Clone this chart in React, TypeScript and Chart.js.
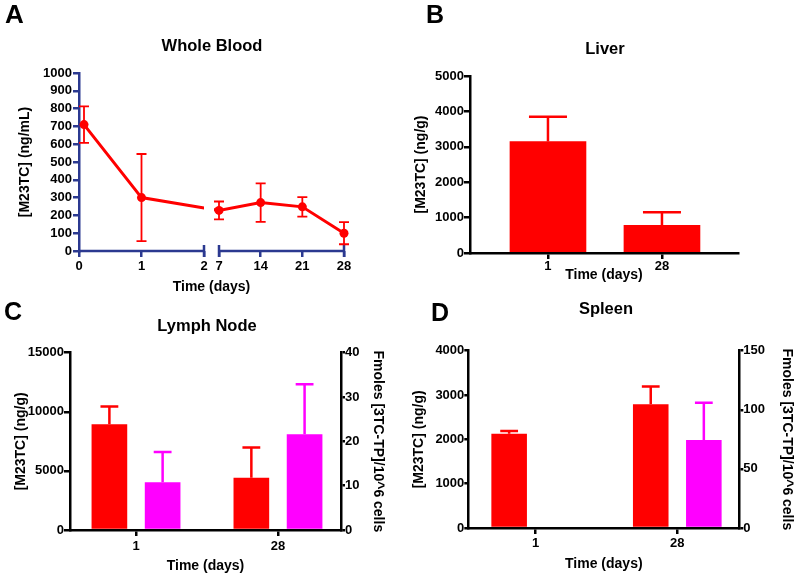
import React, { useEffect, useRef } from 'react';
import { Chart, registerables } from 'chart.js';

Chart.register(...registerables);

// ---------- Data ----------
// Panel A — Whole Blood (mean ± SD, ng/mL)
const bloodDays = [0.08, 1, 7, 14, 21, 28];
const bloodMean = [710, 300, 228, 272, 248, 100];
const bloodSD = [103, 245, 50, 108, 55, 62];
const bloodTickDays = [0, 1, 2, 7, 14, 21, 28];

// Panels B–D — categories
const timeLabels = ['1', '28'];

// Panel B — Liver (ng/g)
const liverMean = [3150, 780];
const liverSD = [700, 370];

// Panel C — Lymph Node
const lymphM23 = [8950, 4420];
const lymphM23SD = [1500, 2550];
const lymphTP = [10.8, 21.6];
const lymphTPSD = [6.8, 11.3];

// Panel D — Spleen
const spleenM23 = [2125, 2790];
const spleenM23SD = [65, 400];
const spleenTP: (number | null)[] = [null, 74.4];
const spleenTPSD: (number | null)[] = [null, 31.6];

// ---------- Styles ----------
const FONT = "'Liberation Sans', Arial, Helvetica, sans-serif";
const RED = '#FF0000';
const MAGENTA = '#FF00FF';
const NAVY = '#2B3990';
const BLACK = '#000000';

Chart.defaults.font.family = FONT;
Chart.defaults.font.size = 13;
Chart.defaults.font.weight = 'bold' as any;
Chart.defaults.color = '#000';

const plain = (v: any) => String(v);

// broken axis mapping: 0–2 days, gap, 7–28 days
const axisPos = (d: number) => (d <= 2 ? d : 2.24 + ((d - 7) * 2) / 21);

const errorBarsPlugin = {
  id: 'errorBars',
  afterDatasetsDraw(chart: any) {
    const ctx = chart.ctx;
    chart.data.datasets.forEach((ds: any, di: number) => {
      if (!ds.errors) return;
      const meta = chart.getDatasetMeta(di);
      if (meta.hidden) return;
      const yScale = chart.scales[meta.yAxisID];
      ctx.save();
      ctx.strokeStyle = ds.errorColor;
      ctx.lineWidth = ds.errorWidth || 2;
      meta.data.forEach((el: any, i: number) => {
        const pt = ds.data[i];
        const err = ds.errors[i];
        if (!pt || pt.y == null || err == null) return;
        const x = el.x;
        const top = yScale.getPixelForValue(pt.y + err);
        const bottom = ds.errorBoth ? yScale.getPixelForValue(pt.y - err) : el.y;
        const half = ds.capHalf != null ? ds.capHalf : el.width / 4;
        ctx.beginPath();
        ctx.moveTo(x, top);
        ctx.lineTo(x, bottom);
        ctx.moveTo(x - half, top);
        ctx.lineTo(x + half, top);
        if (ds.errorBoth) {
          ctx.moveTo(x - half, bottom);
          ctx.lineTo(x + half, bottom);
        }
        ctx.stroke();
      });
      ctx.restore();
    });
  },
};

const brokenAxisPlugin = {
  id: 'brokenAxis',
  beforeDatasetsDraw(chart: any) {
    const ctx = chart.ctx;
    const xs = chart.scales.x;
    const { left, right, bottom } = chart.chartArea;
    const a = xs.getPixelForValue(axisPos(2));
    const b = xs.getPixelForValue(axisPos(7));
    ctx.save();
    ctx.strokeStyle = NAVY;
    ctx.lineWidth = 2.5;
    ctx.beginPath();
    ctx.moveTo(left - 1, bottom);
    ctx.lineTo(a, bottom);
    ctx.moveTo(b, bottom);
    ctx.lineTo(right, bottom);
    for (const px of [a, b, right]) {
      ctx.moveTo(px, bottom - 6);
      ctx.lineTo(px, bottom + 6);
    }
    ctx.stroke();
    ctx.restore();
  },
  beforeDatasetDraw(chart: any) {
    const ctx = chart.ctx;
    const xs = chart.scales.x;
    const a = xs.getPixelForValue(axisPos(2));
    const b = xs.getPixelForValue(axisPos(7)) - 5;
    ctx.save();
    ctx.beginPath();
    ctx.rect(0, 0, a, chart.height);
    ctx.rect(b, 0, chart.width - b, chart.height);
    ctx.clip();
  },
  afterDatasetDraw(chart: any) {
    chart.ctx.restore();
  },
};

// ---------- Configs ----------
function bloodConfig(): any {
  const W = 400, H = 300, L = 79, R = 344, T = 73, B = 251;
  return {
    type: 'line',
    data: {
      datasets: [
        {
          data: bloodDays.map((d, i) => ({ x: axisPos(d), y: bloodMean[i] })),
          borderColor: RED,
          backgroundColor: RED,
          borderWidth: 3,
          pointRadius: 4.5,
          pointBackgroundColor: RED,
          pointBorderColor: RED,
          pointBorderWidth: 0,
          tension: 0,
          clip: false,
          errors: bloodSD,
          errorBoth: true,
          capHalf: 5,
          errorWidth: 1.8,
          errorColor: RED,
        },
      ],
    },
    options: {
      animation: false,
      responsive: false,
      maintainAspectRatio: false,
      layout: { padding: { left: 0, top: T, right: W - R, bottom: 0 } },
      plugins: { legend: { display: false }, tooltip: { enabled: false } },
      scales: {
        x: {
          type: 'linear',
          min: 0,
          max: axisPos(28),
          afterBuildTicks: (s: any) => {
            s.ticks = bloodTickDays.map((d) => ({ value: axisPos(d) }));
          },
          afterFit: (s: any) => {
            s.height = H - B;
          },
          ticks: {
            autoSkip: false,
            maxRotation: 0,
            padding: 2,
            callback: (_v: any, i: number) => String(bloodTickDays[i]),
          },
          grid: { drawOnChartArea: false, color: NAVY, lineWidth: 2.5, tickLength: 6 },
          border: { display: false },
          title: {
            display: true,
            text: 'Time (days)',
            font: { size: 14, weight: 'bold' },
            padding: { top: 0, bottom: 4.6 },
          },
        },
        y: {
          type: 'linear',
          min: 0,
          max: 1000,
          afterFit: (s: any) => {
            s.width = L;
          },
          ticks: { stepSize: 100, autoSkip: false, padding: 1, callback: plain },
          grid: { drawOnChartArea: false, color: NAVY, lineWidth: 2.5, tickLength: 6 },
          border: { display: true, color: NAVY, width: 2.5 },
          title: {
            display: true,
            text: '[M23TC] (ng/mL)',
            font: { size: 14, weight: 'bold' },
            padding: { top: 16.6, bottom: 0 },
          },
        },
      },
    },
    plugins: [errorBarsPlugin, brokenAxisPlugin],
  };
}

interface BarSpec {
  W: number; H: number; L: number; R: number; T: number; B: number;
  xMin: number; xMax: number;
  yMax: number; yStep: number; yTick: number; yTitlePad: number;
  y2Max?: number; y2Step?: number; y2TitlePad?: number;
  xTickPad: number; xTitlePad: number;
  datasets: any[];
}

function barConfig(s: BarSpec): any {
  const scales: any = {
    x: {
      type: 'linear',
      min: s.xMin,
      max: s.xMax,
      offset: false,
      afterBuildTicks: (sc: any) => {
        sc.ticks = timeLabels.map((_, i) => ({ value: i + 1 }));
      },
      afterFit: (sc: any) => {
        sc.height = s.H - s.B;
      },
      ticks: {
        autoSkip: false,
        maxRotation: 0,
        padding: s.xTickPad,
        callback: (_v: any, i: number) => timeLabels[i],
      },
      grid: { offset: false, drawOnChartArea: false, color: BLACK, lineWidth: 2.5, tickLength: 6 },
      border: { display: true, color: BLACK, width: 2.5 },
      title: {
        display: true,
        text: 'Time (days)',
        font: { size: 14, weight: 'bold' },
        padding: { top: 0, bottom: s.xTitlePad },
      },
    },
    y: {
      type: 'linear',
      position: 'left',
      min: 0,
      max: s.yMax,
      afterFit: (sc: any) => {
        sc.width = s.L;
      },
      ticks: { stepSize: s.yStep, autoSkip: false, padding: 0, callback: plain },
      grid: { drawOnChartArea: false, color: BLACK, lineWidth: 2.5, tickLength: s.yTick },
      border: { display: true, color: BLACK, width: 2.5 },
      title: {
        display: true,
        text: '[M23TC] (ng/g)',
        font: { size: 14, weight: 'bold' },
        padding: { top: s.yTitlePad, bottom: 0 },
      },
    },
  };
  if (s.y2Max != null) {
    scales.y2 = {
      type: 'linear',
      position: 'right',
      min: 0,
      max: s.y2Max,
      afterFit: (sc: any) => {
        sc.width = s.W - s.R;
      },
      ticks: { stepSize: s.y2Step, autoSkip: false, padding: 0, callback: plain },
      grid: { drawOnChartArea: false, color: BLACK, lineWidth: 2.5, tickLength: 4 },
      border: { display: true, color: BLACK, width: 2.5 },
      title: {
        display: true,
        text: 'Fmoles [3TC-TP]/10^6 cells',
        font: { size: 14, weight: 'bold' },
        padding: { top: s.y2TitlePad, bottom: 0 },
      },
    };
  }
  return {
    type: 'bar',
    data: { datasets: s.datasets },
    options: {
      animation: false,
      responsive: false,
      maintainAspectRatio: false,
      layout: {
        padding: { left: 0, top: s.T, right: s.y2Max != null ? 0 : s.W - s.R, bottom: 0 },
      },
      plugins: { legend: { display: false }, tooltip: { enabled: false } },
      scales,
    },
    plugins: [errorBarsPlugin],
  };
}

const toPoints = (vals: (number | null)[]) => vals.map((v, i) => ({ x: i + 1, y: v }));

function barDataset(vals: (number | null)[], errs: (number | null)[], color: string, axis: string, extra: any = {}) {
  return {
    data: toPoints(vals),
    backgroundColor: color,
    borderWidth: 0,
    yAxisID: axis,
    errors: errs,
    errorColor: color,
    errorWidth: 2.5,
    categoryPercentage: 0.75,
    barPercentage: 0.67,
    ...extra,
  };
}

const liverCfg = () =>
  barConfig({
    W: 400, H: 290, L: 70, R: 338, T: 76, B: 253,
    xMin: 0.316, xMax: 2.667,
    yMax: 5000, yStep: 1000, yTick: 6, yTitlePad: 12.3,
    xTickPad: 0, xTitlePad: 6.6,
    datasets: [barDataset(liverMean, liverSD, RED, 'y', { barThickness: 76 })],
  });

const lymphCfg = () =>
  barConfig({
    W: 400, H: 289, L: 70, R: 341, T: 62.7, B: 240,
    xMin: 0.535, xMax: 2.444,
    yMax: 15000, yStep: 5000, yTick: 6, yTitlePad: 12.3,
    y2Max: 40, y2Step: 10, y2TitlePad: 13.6,
    xTickPad: 2.2, xTitlePad: 4.6,
    datasets: [
      barDataset(lymphM23, lymphM23SD, RED, 'y'),
      barDataset(lymphTP, lymphTPSD, MAGENTA, 'y2'),
    ],
  });

const spleenCfg = () =>
  barConfig({
    W: 400, H: 289, L: 68.3, R: 339.3, T: 60.7, B: 238,
    xMin: 0.524, xMax: 2.438,
    yMax: 4000, yStep: 1000, yTick: 4, yTitlePad: 10.6,
    y2Max: 150, y2Step: 50, y2TitlePad: 4.9,
    xTickPad: 1.5, xTitlePad: 6.1,
    datasets: [
      barDataset(spleenM23, spleenM23SD, RED, 'y'),
      barDataset(spleenTP, spleenTPSD, MAGENTA, 'y2'),
    ],
  });

// ---------- Components ----------
function ChartCanvas(props: { left: number; top: number; width: number; height: number; make: () => any }) {
  const ref = useRef<HTMLCanvasElement>(null);
  useEffect(() => {
    const chart = new Chart(ref.current as HTMLCanvasElement, props.make());
    return () => chart.destroy();
  }, []);
  return (
    <canvas
      ref={ref}
      width={props.width}
      height={props.height}
      style={{ position: 'absolute', left: props.left, top: props.top, width: props.width, height: props.height }}
    />
  );
}

function Label(props: { text: string; x: number; baseline: number; size: number; center?: boolean }) {
  const { text, x, baseline, size, center } = props;
  const top = baseline - 0.8465 * size;
  return (
    <div
      style={{
        position: 'absolute',
        left: center ? x - 150 : x,
        width: center ? 300 : undefined,
        top,
        fontFamily: FONT,
        fontWeight: 'bold',
        fontSize: size,
        lineHeight: `${size}px`,
        textAlign: center ? 'center' : 'left',
        whiteSpace: 'nowrap',
        color: '#000',
      }}
    >
      {text}
    </div>
  );
}

export default function App() {
  return (
    <div
      style={{
        position: 'absolute',
        left: 0,
        top: 0,
        width: 800,
        height: 579,
        background: '#fff',
        overflow: 'hidden',
      }}
    >
      <ChartCanvas left={0} top={0} width={400} height={300} make={bloodConfig} />
      <ChartCanvas left={400} top={0} width={400} height={290} make={liverCfg} />
      <ChartCanvas left={0} top={290} width={400} height={289} make={lymphCfg} />
      <ChartCanvas left={400} top={290} width={400} height={289} make={spleenCfg} />

      <Label text="A" x={5} baseline={23} size={26} />
      <Label text="B" x={426} baseline={22.7} size={25} />
      <Label text="C" x={4} baseline={320.5} size={25} />
      <Label text="D" x={431} baseline={321.5} size={25} />

      <Label text="Whole Blood" x={212} baseline={50.5} size={16.5} center />
      <Label text="Liver" x={605} baseline={54} size={16.5} center />
      <Label text="Lymph Node" x={207} baseline={331} size={16.5} center />
      <Label text="Spleen" x={606} baseline={313.5} size={16.5} center />
    </div>
  );
}
